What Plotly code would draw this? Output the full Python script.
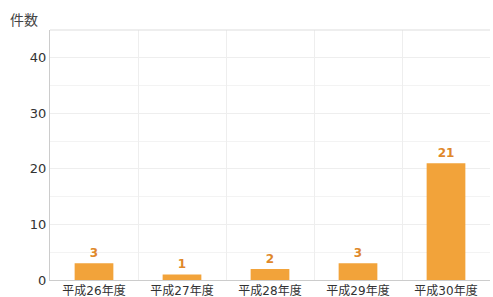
import plotly.graph_objects as go

categories = ["平成26年度", "平成27年度", "平成28年度", "平成29年度", "平成30年度"]
values = [3, 1, 2, 3, 21]
y_tickvals = [0, 10, 20, 30, 40]

FONT = "DejaVu Sans, Noto Sans CJK JP"

fig = go.Figure()
fig.add_trace(go.Bar(
    x=categories, y=values,
    marker=dict(color="#F2A33A", line=dict(width=0)),
    width=0.44,
    text=["<b>%d</b>" % v for v in values],
    textposition="outside",
    textfont=dict(color="#E0882A", size=12, family=FONT),
    cliponaxis=False,
))
fig.update_layout(
    width=493, height=297,
    margin=dict(l=50, r=3, t=30, b=17, autoexpand=False),
    paper_bgcolor="white", plot_bgcolor="white",
    font=dict(family=FONT, size=12, color="#333"),
    showlegend=False,
    bargap=0.56,
    annotations=[dict(text="件数", xref="paper", yref="paper", x=-0.095, y=1.0,
                      xanchor="left", yanchor="bottom", showarrow=False,
                      font=dict(size=14, color="#444"), yshift=0)],
)
fig.update_xaxes(
    type="category", tickson="boundaries", showgrid=True, gridcolor="#eeeeee",
    ticks="", tickfont=dict(size=12, color="#333"), ticklabelstandoff=0,
    showline=True, linecolor="#cccccc", linewidth=1, automargin=False,
)
fig.update_yaxes(
    range=[0, 45], tickvals=y_tickvals, showgrid=True, gridcolor="#eeeeee",
    minor=dict(dtick=5, showgrid=True, gridcolor="#f3f3f3"),
    showline=True, linecolor="#cccccc", linewidth=1, ticks="",
    tickfont=dict(size=13, color="#333"), zeroline=False, automargin=False,
)
fig.add_shape(type="line", xref="paper", yref="paper", x0=0, x1=1, y0=1, y1=1,
              line=dict(color="#dddddd", width=1))
fig.write_html("out.html", config={"displayModeBar": False},
               post_script="document.body.style.margin='0';document.body.style.overflow='hidden';")
